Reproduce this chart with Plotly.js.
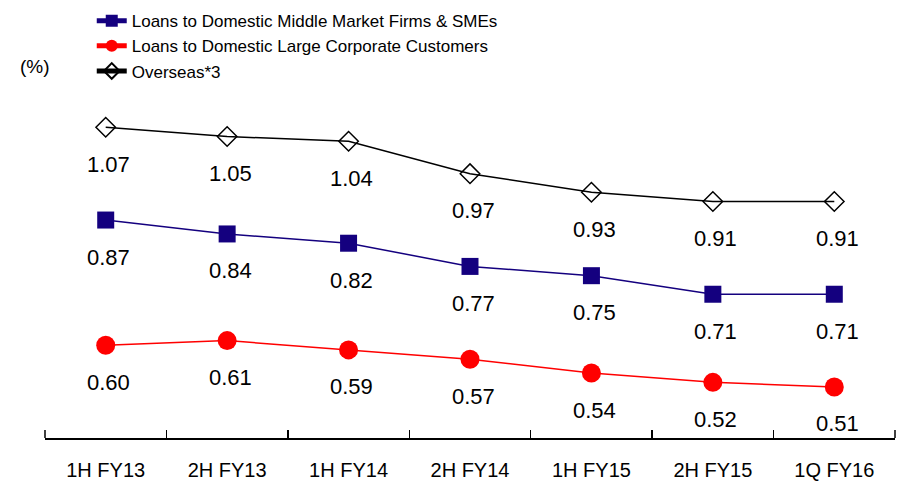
<!DOCTYPE html>
<html>
<head>
<meta charset="utf-8">
<script src="https://cdn.plot.ly/plotly-3.0.1.min.js"></script>
<style>html,body{margin:0;padding:0;background:#fff;}#chart{width:899px;height:483px;}</style>
</head>
<body>
<div id="chart"></div>
<script>
const categories = ["1H FY13", "2H FY13", "1H FY14", "2H FY14", "1H FY15", "2H FY15", "1Q FY16"];
const midMarket = [0.87, 0.84, 0.82, 0.77, 0.75, 0.71, 0.71];
const largeCorp = [0.60, 0.61, 0.59, 0.57, 0.54, 0.52, 0.51];
const overseas = [1.07, 1.05, 1.04, 0.97, 0.93, 0.91, 0.91];
const seriesNames = ["Loans to Domestic Middle Market Firms & SMEs", "Loans to Domestic Large Corporate Customers", "Overseas*3"];

const FONT = "Liberation Sans, Arial, sans-serif";

const traces = [
  {x: categories, y: midMarket, name: seriesNames[0], type: "scatter", mode: "lines+markers",
   line: {color: "#14007F", width: 1.5}, marker: {symbol: "square", size: 17, color: "#14007F"}},
  {x: categories, y: largeCorp, name: seriesNames[1], type: "scatter", mode: "lines+markers",
   line: {color: "#FF0000", width: 1.5}, marker: {symbol: "circle", size: 19, color: "#FF0000"}},
  {x: categories, y: overseas, name: seriesNames[2], type: "scatter", mode: "lines+markers",
   line: {color: "#000000", width: 1.5}, marker: {symbol: "diamond-open", size: 15, color: "#000000", line: {width: 1.5, color: "#000000"}}}
];

const annotations = [];
[midMarket, largeCorp, overseas].forEach(arr => {
  arr.forEach((v, i) => {
    annotations.push({x: categories[i], y: v, xref: "x", yref: "y", text: v.toFixed(2),
      showarrow: false, yshift: -37, xshift: 3, font: {family: FONT, size: 22, color: "#000"}});
  });
});
annotations.push({xref: "paper", yref: "paper", x: (35 - 45) / 850, y: (436.7 - 64) / 372, text: "(%)",
  showarrow: false, font: {family: FONT, size: 19, color: "#000"}, xanchor: "center", yanchor: "middle"});

const shapes = [0, 1].map(px => ({type: "line", xref: "paper", yref: "paper", x0: px, x1: px, y0: 0, y1: 8 / 372,
  line: {color: "#000", width: 1.5}}));

const layout = {
  width: 899, height: 483,
  margin: {l: 45, r: 4, t: 67, b: 45, pad: 0, autoexpand: false},
  paper_bgcolor: "#fff", plot_bgcolor: "#fff",
  font: {family: FONT, color: "#000"},
  showlegend: true,
  legend: {x: 0.055, y: 1.172, xanchor: "left", yanchor: "top", font: {family: FONT, size: 17, color: "#000"},
    bgcolor: "rgba(0,0,0,0)", tracegroupgap: 0, itemwidth: 30, itemsizing: "constant", traceorder: "normal"},
  xaxis: {type: "category", range: [-0.5, 6.5], showgrid: false, zeroline: false,
    showline: true, linecolor: "#000", linewidth: 2, ticks: "inside", tickson: "boundaries",
    ticklen: 8, tickwidth: 1.5, tickcolor: "#000", tickfont: {family: FONT, size: 20, color: "#000"},
    ticklabelstandoff: 13, fixedrange: true},
  yaxis: {range: [0.40, 1.20], visible: false, showgrid: false, zeroline: false, fixedrange: true},
  shapes: shapes,
  annotations: annotations
};

Plotly.newPlot("chart", traces, layout, {displayModeBar: false, staticPlot: true});
</script>
</body>
</html>
